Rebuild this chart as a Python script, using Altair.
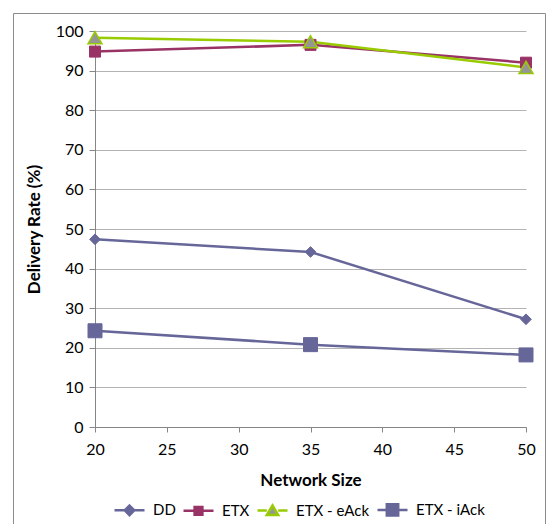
import altair as alt
import pandas as pd

# Network sizes on the x axis and the delivery rate (%) of each protocol
sizes = [20, 35, 50]
series_names = ["DD", "ETX", "ETX - eAck", "ETX - iAck"]
dd = [47.4, 44.2, 27.2]
etx = [94.8, 96.5, 92.0]
etx_eack = [98.3, 97.3, 90.8]
etx_iack = [24.3, 20.8, 18.2]

x_ticks = [20, 25, 30, 35, 40, 45, 50]
y_ticks = [0, 10, 20, 30, 40, 50, 60, 70, 80, 90, 100]

# Per-series styling
line_colors = ["#666699", "#993366", "#99CC00", "#666699"]
fill_colors = ["#666699", "#993366", "#969696", "#666699"]
marker_shapes = ["diamond", "square", "triangle-up", "square"]
marker_sizes = [114, 121, 196, 196]
marker_strokes = [1, 1, 1.5, 1]

# Legend symbols: a short line segment with the series marker in the middle
legend_paths = [
    "M-1,0H-0.3M0.3,0H1M0,-0.32L0.32,0L0,0.32L-0.32,0Z",
    "M-1,0H-0.26M0.26,0H1M-0.26,-0.26H0.26V0.26H-0.26Z",
    "M-1,0H-0.38M0.38,0H1M0,-0.34L0.38,0.3H-0.38Z",
    "M-1,0H-0.38M0.38,0H1M-0.38,-0.38H0.38V0.38H-0.38Z",
]

FONT = "Lato"

rows = []
for name, vals in zip(series_names, [dd, etx, etx_eack, etx_iack]):
    for s, v in zip(sizes, vals):
        rows.append({"size": s, "rate": v, "series": name})
df = pd.DataFrame(rows)

x_enc = alt.X(
    "size:Q",
    scale=alt.Scale(domain=[20, 50], nice=False, zero=False),
    axis=alt.Axis(
        values=x_ticks,
        title="Network Size",
        grid=False,
        tickSize=5,
        labelPadding=9,
        labelFlush=False,
        titlePadding=15,
    ),
)
y_enc = alt.Y(
    "rate:Q",
    scale=alt.Scale(domain=[0, 100], nice=False),
    axis=alt.Axis(
        values=y_ticks,
        title="Delivery Rate (%)",
        grid=True,
        tickSize=6,
        labelPadding=6,
        labelFlush=False,
        titlePadding=12,
    ),
)

base = alt.Chart(df)

layers = []

# Outer frame around the whole figure
frame = alt.Chart(pd.DataFrame({"frame": [0]})).mark_rect(
    fill="transparent", stroke="#8C8C8C", strokeWidth=1
).encode(
    x=alt.value(-81.5), x2=alt.value(450.5), y=alt.value(-17.5), y2=alt.value(520)
)
layers.append(frame)

# Connecting lines
for name, color in zip(series_names, line_colors):
    layers.append(
        base.mark_line(color=color, strokeWidth=2.5)
        .transform_filter(alt.datum.series == name)
        .encode(x=x_enc, y=y_enc)
    )

# Markers
for name, shape, size, fill, stroke, sw in zip(
    series_names, marker_shapes, marker_sizes, fill_colors, line_colors, marker_strokes
):
    layers.append(
        base.mark_point(
            shape=shape, size=size, filled=True, fill=fill, stroke=stroke,
            strokeWidth=sw, opacity=1,
        )
        .transform_filter(alt.datum.series == name)
        .encode(x=x_enc, y=y_enc)
    )

# Legend (driven by the series scale; draws no marks itself)
legend = alt.Legend(
    title=None,
    orient="none",
    direction="horizontal",
    legendX=18,
    legendY=462,
    padding=0,
    symbolSize=900,
    symbolStrokeWidth=2.5,
    symbolOpacity=1,
    labelFont=FONT,
    labelFontSize=15,
    labelColor="#000000",
    labelOffset=7,
    columnPadding=2,
)
legend_layer = (
    base.mark_point(filled=True, opacity=1)
    .transform_filter("false")
    .encode(
        x=x_enc,
        y=y_enc,
        shape=alt.Shape("series:N", scale=alt.Scale(domain=series_names, range=legend_paths), legend=legend),
        fill=alt.Fill("series:N", scale=alt.Scale(domain=series_names, range=fill_colors), legend=legend),
        stroke=alt.Stroke("series:N", scale=alt.Scale(domain=series_names, range=line_colors), legend=legend),
    )
)
layers.append(legend_layer)

chart = (
    alt.layer(*layers)
    .properties(
        width=431,
        height=396,
        autosize=alt.AutoSizeParams(type="none"),
        padding={"left": 95, "top": 31, "right": 26, "bottom": 97},
        background="#FFFFFF",
    )
    .configure_view(stroke=None)
    .configure_axis(
        labelFont=FONT,
        labelFontSize=16,
        labelColor="#000000",
        titleFont=FONT,
        titleFontSize=17,
        titleFontWeight="bold",
        titleColor="#000000",
        domainColor="#868686",
        tickColor="#868686",
        gridColor="#B3B3B3",
        domainWidth=1,
        tickWidth=1,
        gridWidth=1,
    )
)

chart.save("out.html", embed_options={"renderer": "svg", "actions": False})
